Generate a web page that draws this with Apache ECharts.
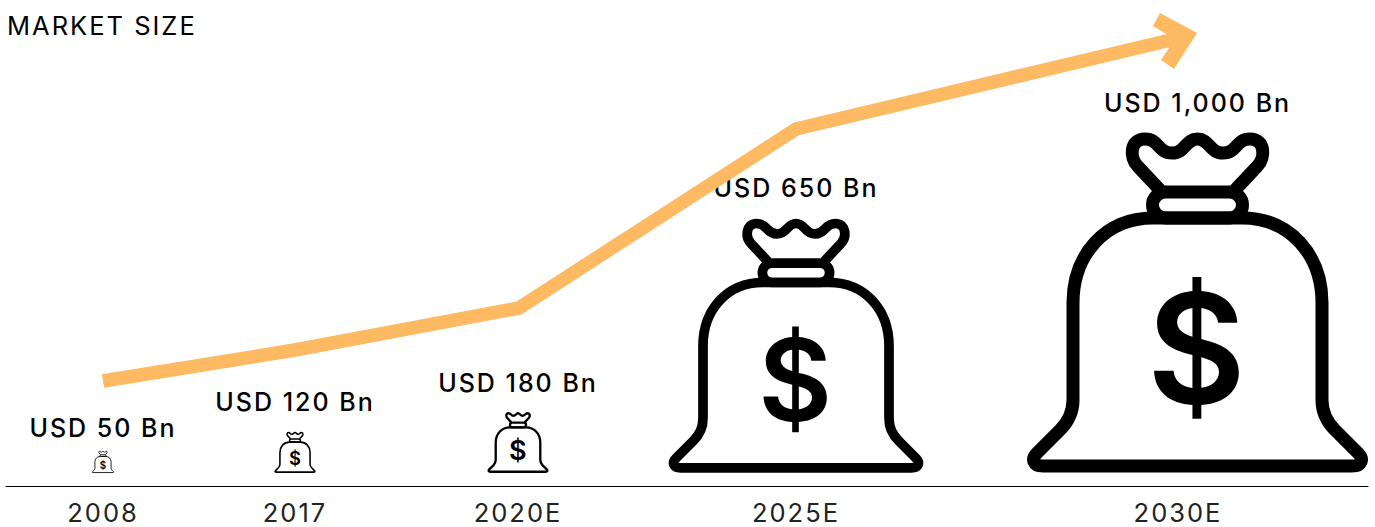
<!DOCTYPE html>
<html>
<head>
<meta charset="utf-8">
<style>
html,body{margin:0;padding:0;background:#fff}
#chart{width:1375px;height:527px}
#chart text{letter-spacing:2px}
</style>
<script src="https://cdn.jsdelivr.net/npm/echarts@6/dist/echarts.min.js"></script>
</head>
<body>
<div id="chart"></div>
<script>
// ---- data ----
const years = ['2008', '2017', '2020E', '2025E', '2030E'];
const marketSizeBn = [50, 120, 180, 650, 1000];
const trendIndex = [105, 136, 178, 357, 447];

// ---- layout (in the pixel-scaled units of the hidden axes) ----
const yearSlots = [103, 295, 518, 796, 1178];
const bagSlots = [103, 295, 518, 796, 1197.5];
const trendSlots = [103, 295, 519, 796, 1175];
const bagSizes = [22, 41, 61, 254, 340];
const labelGaps = [23, 30, 29, 31, 30];

const FONT = 'Inter, "Noto Sans", sans-serif';
const ORANGE = '#FDBA63';
const BAG_BODY = 'M-44.5,-255 C-92.5,-255 -124.5,-218 -124.5,-170 L-124.5,-73 C-124.5,-61 -130.5,-50 -137.5,-43 L-160.5,-20 C-166.5,-14 -164.5,-7 -154.5,-7 L154.5,-7 C164.5,-7 166.5,-14 160.5,-20 L137.5,-43 C130.5,-50 124.5,-61 124.5,-73 L124.5,-170 C124.5,-218 92.5,-255 44.5,-255 Z';
const BAG_BAND = 'M-32,-281 L32,-281 A13,13 0 0 1 32,-255 L-32,-255 A13,13 0 0 1 -32,-281 Z';
const BAG_KNOT = 'M-37.5,-283 L-60,-307 C-68,-315 -68,-334 -52.5,-334 C-38,-334 -40,-320 -25.5,-320 C-12,-320 -12,-334 0,-334 C12,-334 12,-320 25.5,-320 C40,-320 38,-334 52.5,-334 C68,-334 68,-315 60,-307 L37.5,-283';
const ARROW_HEAD = 'path://M1197,33 L1160,13 L1153,26 L1175,39 L1161,60 L1174,69 Z';

function strokePath(d) {
  return { type: 'path', shape: { pathData: d }, style: { fill: 'none', stroke: '#000', lineWidth: 13 } };
}

function renderBag(params, api) {
  const i = params.dataIndex;
  const base = api.coord([api.value(0), 0]);
  const bottom = base[1] - 13;
  const size = api.value(1);
  return {
    type: 'group',
    children: [
      {
        type: 'group',
        x: base[0], y: bottom, scaleX: size / 340, scaleY: size / 340,
        children: [
          strokePath(BAG_BODY), strokePath(BAG_BAND), strokePath(BAG_KNOT),
          { type: 'text', x: 0, y: -125,
            style: { text: '$', fontFamily: FONT, fontSize: 152, fontWeight: 600, fill: '#000', align: 'center', verticalAlign: 'middle' } }
        ]
      },
      { type: 'text', x: base[0], y: bottom - size - labelGaps[i],
        style: { text: 'USD ' + api.value(2).toLocaleString('en-US') + ' Bn', fontFamily: FONT, fontSize: 25, fontWeight: 500, fill: '#000', align: 'center', verticalAlign: 'middle' } }
    ]
  };
}

const chart = echarts.init(document.getElementById('chart'), null, { renderer: 'svg' });
chart.setOption({
  animation: false,
  backgroundColor: '#fff',
  title: { text: 'MARKET SIZE', left: 2, top: 7, textStyle: { fontFamily: FONT, fontSize: 25.5, fontWeight: 400, color: '#000' } },
  grid: { left: 6, right: 7, top: 0, bottom: 41 },
  xAxis: {
    type: 'value', min: 6, max: 1368,
    axisLine: { show: true, lineStyle: { color: '#000', width: 1 } },
    axisTick: { show: false },
    splitLine: { show: false },
    axisLabel: {
      customValues: yearSlots,
      formatter: v => years[yearSlots.indexOf(v)],
      margin: 13, fontFamily: FONT, fontSize: 25.5, fontWeight: 400, color: '#222'
    }
  },
  yAxis: { type: 'value', min: 0, max: 486, show: false },
  series: [
    {
      name: 'Trend', type: 'line', symbol: 'none', silent: true,
      data: trendSlots.map((x, i) => [x, trendIndex[i]]),
      lineStyle: { color: ORANGE, width: 13.5, cap: 'butt', join: 'miter' }
    },
    {
      name: 'Arrow', type: 'scatter', silent: true,
      data: [[trendSlots[4], trendIndex[4]]],
      symbol: ARROW_HEAD, symbolSize: [44, 56], symbolKeepAspect: false, symbolOffset: [0, 2],
      itemStyle: { color: ORANGE, opacity: 1 }
    },
    {
      name: 'Market size', type: 'custom', silent: true, renderItem: renderBag,
      encode: { x: 0, y: 1 },
      data: bagSlots.map((x, i) => [x, bagSizes[i], marketSizeBn[i]])
    }
  ]
});
</script>
</body>
</html>
